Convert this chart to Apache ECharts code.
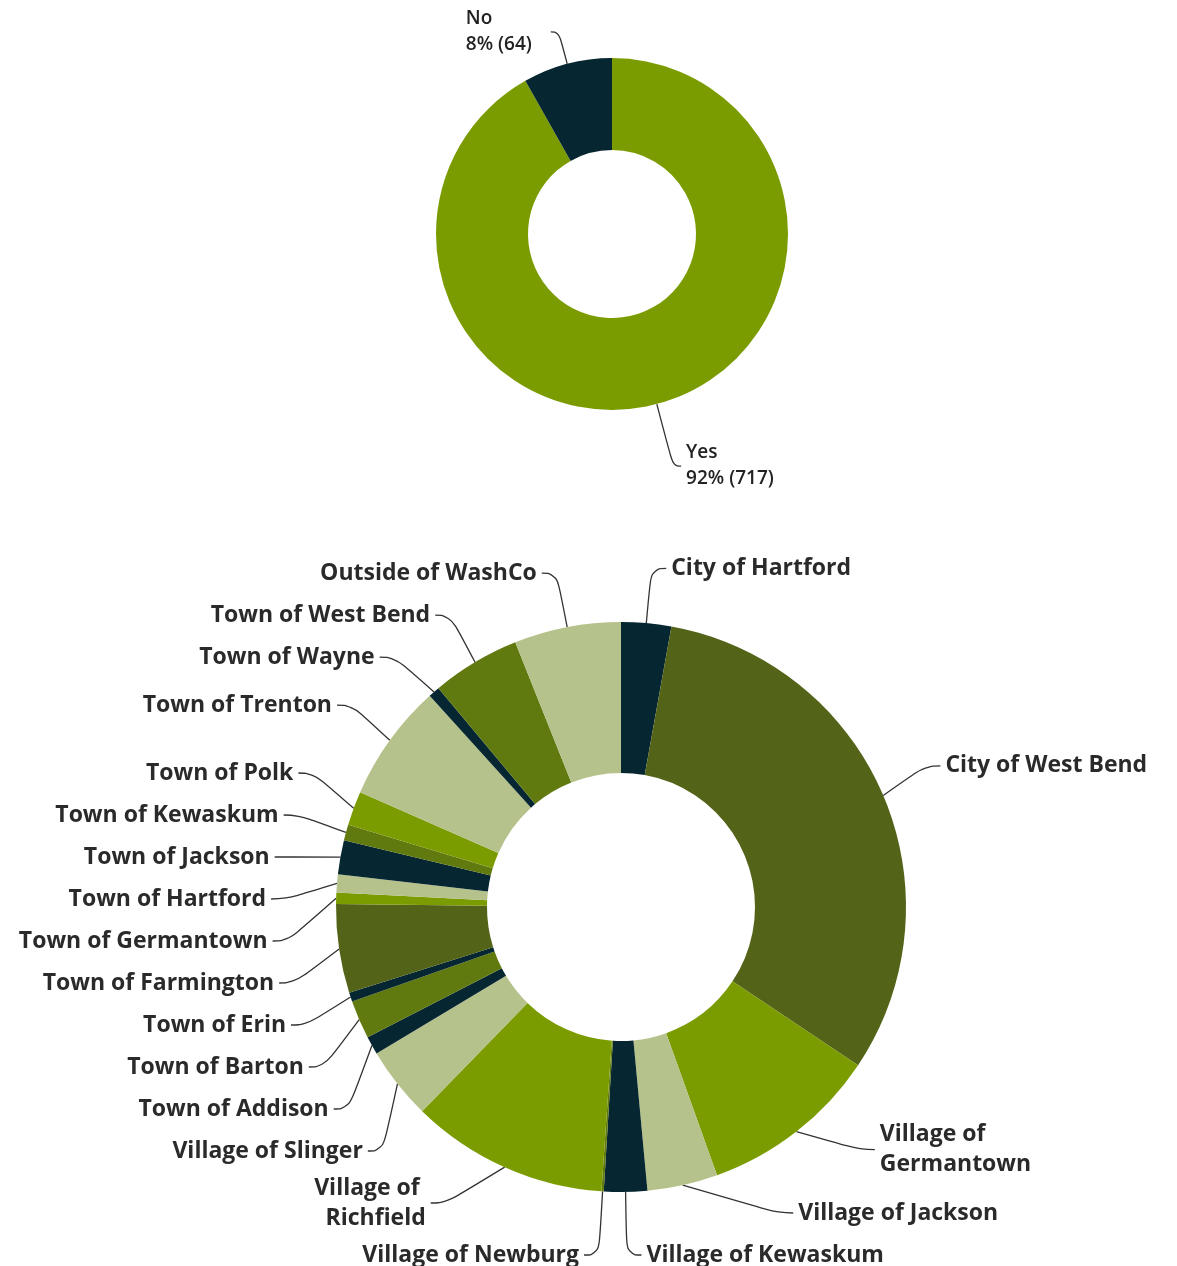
<!DOCTYPE html>
<html>
<head>
<meta charset="utf-8">
<script src="https://cdn.jsdelivr.net/npm/echarts@6/dist/echarts.min.js"></script>
<style>
html,body{margin:0;padding:0;background:#fff;overflow:hidden;}
#chart{width:1177px;height:1276px;}
</style>
</head>
<body>
<div id="chart"></div>
<script>
// Question 1: answer share
const q1Categories = ['Yes', 'No'];
const q1Values = [717, 64];

// Question 2: municipality
const q2Categories = [
  'City of Hartford', 'City of West Bend', 'Village of Germantown', 'Village of Jackson',
  'Village of Kewaskum', 'Village of Newburg', 'Village of Richfield', 'Village of Slinger',
  'Town of Addison', 'Town of Barton', 'Town of Erin', 'Town of Farmington',
  'Town of Germantown', 'Town of Hartford', 'Town of Jackson', 'Town of Kewaskum',
  'Town of Polk', 'Town of Trenton', 'Town of Wayne', 'Town of West Bend', 'Outside of WashCo'
];
const q2Values = [22, 245, 79, 31, 19, 1, 87, 32, 8, 17, 4, 39, 5, 8, 15, 7, 15, 52, 5, 39, 47];

const NAVY = '#062731', DOLIVE = '#536419', MOLIVE = '#617a10', GREEN = '#7a9c01', LIGHT = '#b6c28b';
const q1Colors = [GREEN, NAVY];
const q2Colors = [NAVY, DOLIVE, GREEN, LIGHT, NAVY, MOLIVE, GREEN, LIGHT, NAVY, MOLIVE, NAVY,
  DOLIVE, GREEN, LIGHT, NAVY, MOLIVE, GREEN, LIGHT, NAVY, MOLIVE, LIGHT];
const q1LineLen = [64, 33];
const q1Rich = ['r', 'l'];
const wrapped = { 'Village of Germantown': 175, 'Village of Richfield': 130 };

const total1 = q1Values.reduce((a, b) => a + b, 0);
const q1Text = { fontFamily: 'Open Sans', fontSize: 19, fontWeight: 600, lineHeight: 26, color: '#222' };

const chart = echarts.init(document.getElementById('chart'), null, { renderer: 'canvas' });
chart.setOption({
  animation: false,
  backgroundColor: '#ffffff',
  series: [
    {
      type: 'pie',
      center: [612, 234],
      radius: [84, 176],
      startAngle: 90,
      clockwise: true,
      avoidLabelOverlap: true,
      data: q1Categories.map((c, i) => ({
        name: c, value: q1Values[i], itemStyle: { color: q1Colors[i] },
        labelLine: { length: q1LineLen[i] }
      })),
      label: {
        show: true,
        formatter: p => {
          const k = q1Rich[p.dataIndex];
          return '{' + k + '|' + p.name + '}\n{' + k + '|' + Math.round(p.value / total1 * 100) + '% (' + p.value + ')}';
        },
        rich: {
          l: Object.assign({ width: 80, align: 'left' }, q1Text),
          r: Object.assign({}, q1Text)
        }
      },
      labelLine: { show: true, length: 45, length2: 8, smooth: 0.5, lineStyle: { color: '#333', width: 1.3 } }
    },
    {
      type: 'pie',
      center: [621, 907],
      radius: [134, 285],
      startAngle: 90,
      clockwise: true,
      avoidLabelOverlap: true,
      data: q2Categories.map((c, i) => {
        const d = { name: c, value: q2Values[i], itemStyle: { color: q2Colors[i] } };
        if (wrapped[c]) d.label = { width: wrapped[c], overflow: 'break', padding: 0 };
        return d;
      }),
      label: {
        show: true,
        formatter: '{b}',
        fontFamily: 'Open Sans',
        fontSize: 23,
        fontWeight: 700,
        lineHeight: 30,
        padding: [5, 0],
        color: '#2a2a2a'
      },
      labelLine: { show: true, length: 55, length2: 15, smooth: 0.5, lineStyle: { color: '#333', width: 1.3 } }
    }
  ]
});
</script>
</body>
</html>
